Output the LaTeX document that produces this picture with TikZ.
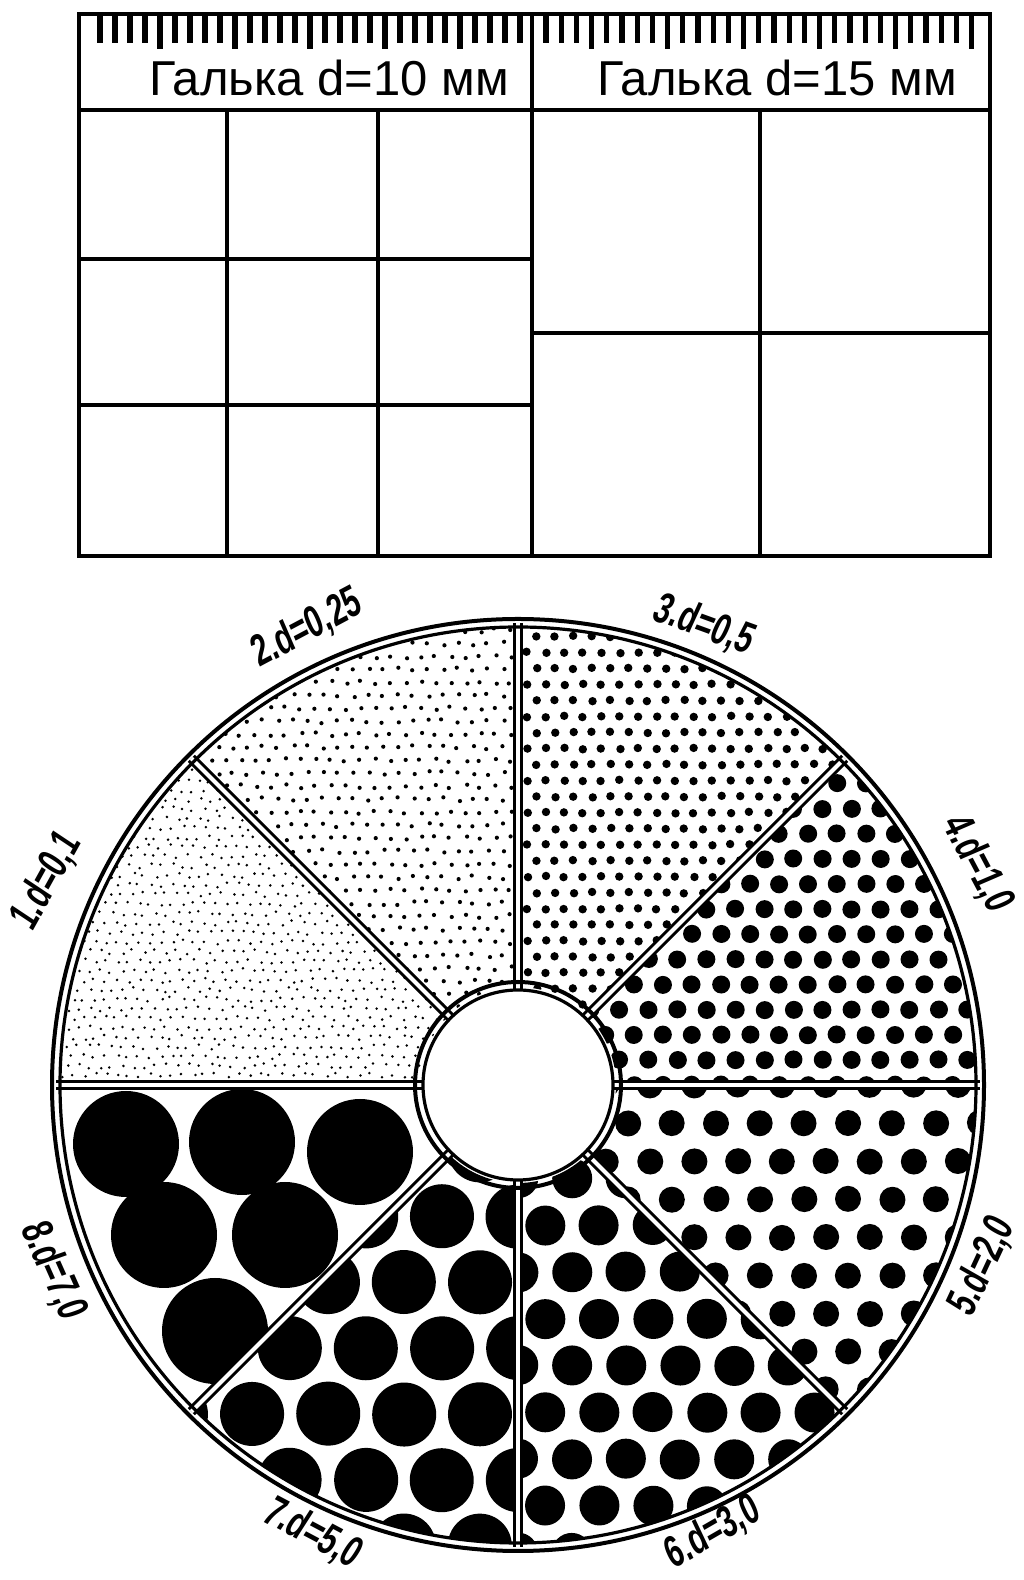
\documentclass[tikz,border=0pt]{standalone}
\usepackage{fontspec}
\setmainfont{Liberation Sans}
\newfontfamily\sizefont[FakeSlant=0.12]{Liberation Sans Bold}
\usetikzlibrary{calc}

% narrow size label on the rim
\newcommand{\sizetext}[1]{\scalebox{0.68}[1]{#1}}

% clip to one sector of the sieve disc (inside a scope shifted to ctr)
\newcommand{\sectorclip}[2]{%
  \clip (#1:459) arc[start angle=#1, end angle=#2, radius=459]
    -- (#2:98) arc[start angle=#2, end angle=#1, radius=98] -- cycle;}

% hexagonal field of dots: angles, spacing, radius, jitter, xmin, xmax, ymin, ymax
\newcommand{\dotfield}[9]{%
  \begin{scope}[shift={(ctr)}]
    \sectorclip{#1}{#2}
    \pgfmathtruncatemacro\jlo{floor(#8/(0.866*#3))-1}
    \pgfmathtruncatemacro\jhi{ceil(#9/(0.866*#3))+1}
    \pgfmathtruncatemacro\ilo{floor(#6/#3)-1}
    \pgfmathtruncatemacro\ihi{ceil(#7/#3)+1}
    \foreach \j in {\jlo,...,\jhi}
      \foreach \i in {\ilo,...,\ihi} {
        \pgfmathsetmacro\dx{(\i+0.5*mod(\j+1000,2))*#3+#5*rand}
        \pgfmathsetmacro\dy{\j*0.866*#3+#5*rand}
        \fill (\dx,\dy) circle[radius=#4];
      }
  \end{scope}}

\begin{document}
\begin{tikzpicture}[x=0.5pt, y=0.5pt]
    \tikzstyle{panel} = [line width=2pt];
    \tikzstyle{cell} = [line width=1.6pt];
    \tikzstyle{rulertick} = [line width=2.6pt];
    \tikzstyle{divblack} = [line width=5pt];
    \tikzstyle{divwhite} = [white, line width=2pt];
    \tikzstyle{rim} = [line width=2pt];
    \tikzstyle{headlabel} = [font=\fontsize{24.5}{25}\selectfont, inner sep=0pt, anchor=base];
    \tikzstyle{sizelabel} = [font=\sizefont\fontsize{22}{22}\selectfont, inner sep=0pt];
    \pgfmathsetseed{17}

    \useasboundingbox (0,0) rectangle (1023,1580);

    % scale card
    \draw[panel] (79,1024) rectangle (990,1566);
    \draw[panel] (79,1470) -- (990,1470);
    \draw[panel] (532,1024) -- (532,1566);
    \draw[cell] (227,1024) -- (227,1470);
    \draw[cell] (378,1024) -- (378,1470);
    \draw[cell] (79,1321) -- (532,1321);
    \draw[cell] (79,1175) -- (532,1175);
    \draw[cell] (760,1024) -- (760,1470);
    \draw[cell] (532,1247) -- (990,1247);

    \foreach \k in {1,...,29} {
      \pgfmathsetmacro\len{ifthenelse(mod(\k,5)==0,35,29)}
      \draw[rulertick] ({85+15*\k},1566) -- ++(0,-\len);
    }
    \foreach \m in {0,...,28} {
      \pgfmathsetmacro\len{ifthenelse(mod(\m,5)==3,35,29)}
      \draw[rulertick] ({546+15.2*\m},1566) -- ++(0,-\len);
    }

    \node[headlabel] (gal10) at (329,1484) {Галька d=10 мм};
    \node[headlabel] (gal15) at (777,1484) {Галька d=15 мм};

    % sieve disc
    \coordinate (ctr) at (518,495);

    \dotfield{135}{180}{11}{1.4}{2.5}{-460}{0}{0}{330}
    \dotfield{90}{135}{15}{2.1}{2}{-330}{0}{70}{460}
    \dotfield{45}{90}{18.5}{4.2}{0.8}{0}{330}{70}{460}
    \dotfield{0}{45}{29}{9}{0.5}{70}{460}{0}{330}
    \dotfield{-45}{0}{44}{13}{0.5}{70}{460}{-330}{0}
    \dotfield{-90}{-45}{54}{20}{0.5}{0}{330}{-460}{-70}
    \dotfield{-135}{-90}{76}{32}{0.5}{-330}{0}{-460}{-70}

    \begin{scope}[shift={(ctr)}]
      \sectorclip{180}{225}
      \foreach \cx/\cy in {-392/-59, -276/-57, -158/-67, -354/-150, -233/-150, -303/-246}
        \fill (\cx,\cy) circle[radius=53];
    \end{scope}

    \begin{scope}[shift={(ctr)}]
      \foreach \a in {0,45,...,315} {
        \draw[divblack] (\a:96) -- (\a:462);
        \draw[divwhite] (\a:96) -- (\a:462);
      }
      \fill[white] (0,0) circle[radius=93];
      \draw[rim] (0,0) circle[radius=466];
      \draw[rim, line width=1.6pt] (0,0) circle[radius=458];
      \draw[rim] (0,0) circle[radius=103];
      \draw[rim, line width=1.6pt] (0,0) circle[radius=95];
    \end{scope}

    \node[sizelabel, rotate=61]  (d1) at (46,698)  {\sizetext{1.d=0,1}};
    \node[sizelabel, rotate=28]  (d2) at (306,951) {\sizetext{2.d=0,25}};
    \node[sizelabel, rotate=-20] (d3) at (703,955) {\sizetext{3.d=0,5}};
    \node[sizelabel, rotate=-62] (d4) at (977,717) {\sizetext{4.d=1,0}};
    \node[sizelabel, rotate=65]  (d5) at (982,313) {\sizetext{5.d=2,0}};
    \node[sizelabel, rotate=30]  (d6) at (712,47)  {\sizetext{6.d=3,0}};
    \node[sizelabel, rotate=-28] (d7) at (312,47)  {\sizetext{7.d=5,0}};
    \node[sizelabel, rotate=-66] (d8) at (53,310)  {\sizetext{8.d=7,0}};
\end{tikzpicture}
\end{document}
